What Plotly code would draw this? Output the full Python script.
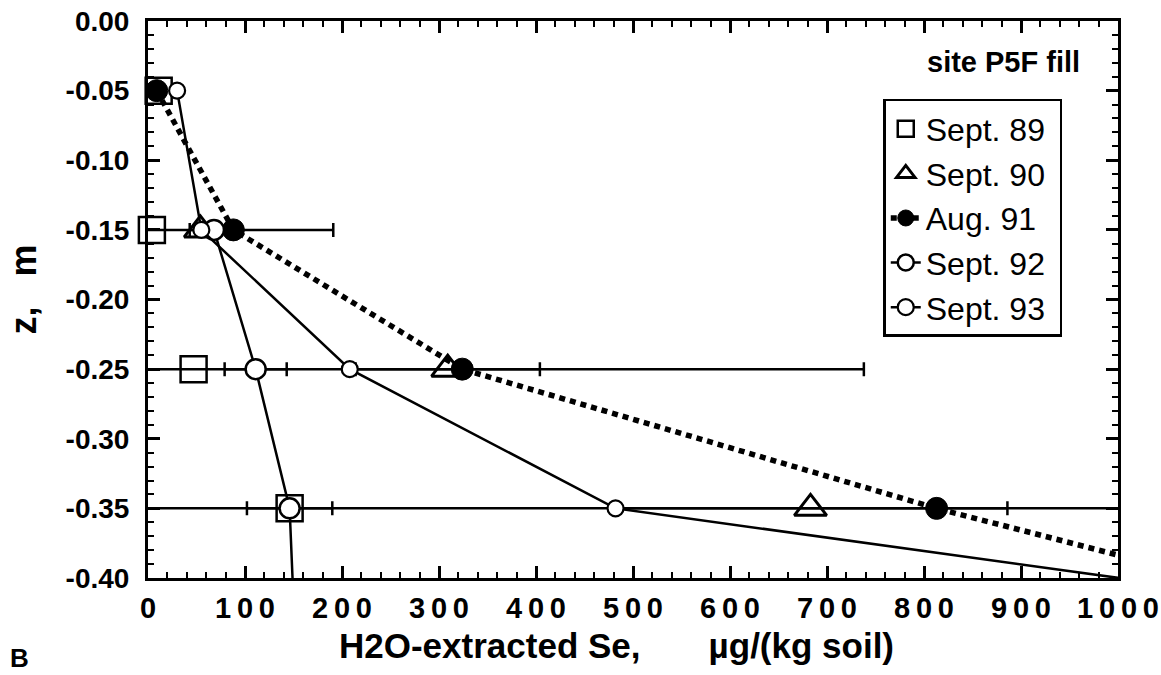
import plotly.graph_objects as go

# Depth of each sampling layer (m); the last level lies below the plotted range
depth = [-0.05, -0.15, -0.25, -0.35, -0.45]

# H2O-extracted Se, ug/(kg soil)
se_sep89 = [11, 4, 47, 146, None]
se_sep90 = [None, 54, 309, 683, None]
err_sep90 = [None, 11, 95, 203, None]
se_aug91 = [9, 88, 324, 813, 1370]
err_aug91 = [None, 103, 414, 900, None]
se_sep92 = [None, 68, 111, 146, 152]
err_sep92 = [None, None, 32, 44, None]
se_sep93 = [30, 55, 208, 482, 1520]

x_ticks = [0, 100, 200, 300, 400, 500, 600, 700, 800, 900, 1000]
x_ticktext = ["0", "100", "200", "300", "400", "500", "600", "700", "800", "900", "1000"]
y_ticks = [0.0, -0.05, -0.10, -0.15, -0.20, -0.25, -0.30, -0.35, -0.40]
y_ticktext = ["0.00", "-0.05", "-0.10", "-0.15", "-0.20", "-0.25", "-0.30", "-0.35", "-0.40"]

BLACK = "black"
SANS = "Liberation Sans"
SP = "\u00a0"
THIN = "\u2009"


def errs(vals):
    return dict(type="data", array=vals, visible=True, color=BLACK,
                thickness=2.5, width=7)


def spaced(label):
    # bold digits set a little apart
    return "<b>" + THIN.join(label) + "</b>"


fig = go.Figure()

fig.add_trace(go.Scatter(
    x=se_sep89, y=depth, mode="markers", name="Sept. 89" + SP, legendgroup="a",
    cliponaxis=False,
    marker=dict(symbol="square", size=26, color="rgba(0,0,0,0)",
                line=dict(color=BLACK, width=2.5)),
))
fig.add_trace(go.Scatter(
    x=se_sep90, y=depth, mode="markers", name="Sept. 90", legendgroup="b",
    cliponaxis=False, error_x=errs(err_sep90),
    marker=dict(symbol="triangle-up", size=28, color="rgba(0,0,0,0)",
                line=dict(color=BLACK, width=3)),
))
fig.add_trace(go.Scatter(
    x=se_aug91, y=depth, mode="lines+markers", name="Aug. 91", legendgroup="c",
    error_x=errs(err_aug91),
    line=dict(color=BLACK, width=5.5, dash="6px,5px"),
    marker=dict(symbol="circle", size=22, color=BLACK,
                line=dict(color=BLACK, width=1)),
))
fig.add_trace(go.Scatter(
    x=se_sep92, y=depth, mode="lines+markers", name="Sept. 92", legendgroup="d",
    error_x=errs(err_sep92),
    line=dict(color=BLACK, width=2.5),
    marker=dict(symbol="circle", size=20, color="white",
                line=dict(color=BLACK, width=2.5)),
))
fig.add_trace(go.Scatter(
    x=se_sep93, y=depth, mode="lines+markers", name="Sept. 93", legendgroup="e",
    line=dict(color=BLACK, width=2.5),
    marker=dict(symbol="circle", size=16, color="white",
                line=dict(color=BLACK, width=2.2)),
))

axis_common = dict(
    showline=True, linewidth=3, linecolor=BLACK, mirror="allticks",
    ticks="inside", ticklen=12, tickwidth=2.5, tickcolor=BLACK,
    showgrid=False, zeroline=False, automargin=False,
)

fig.update_xaxes(
    range=[0, 1000], tickmode="array", tickvals=x_ticks,
    ticktext=[spaced(t) for t in x_ticktext],
    tickfont=dict(family=SANS, size=29, color=BLACK), ticklabelstandoff=2,
    minor=dict(ticks="inside", tickmode="linear", tick0=0, dtick=20,
               ticklen=6, tickwidth=2, tickcolor=BLACK),
    **axis_common,
)
fig.update_yaxes(
    range=[-0.40, 0.0], tickmode="array", tickvals=y_ticks,
    ticktext=["<b>" + t + "</b>" for t in y_ticktext],
    tickfont=dict(family=SANS, size=28, color=BLACK), ticklabelstandoff=10,
    minor=dict(ticks="inside", tickmode="linear", tick0=0, dtick=0.01,
               ticklen=6, tickwidth=2, tickcolor=BLACK),
    title=dict(text="<b>" + SP * 2 + "z," + SP * 3 + "m</b>",
               font=dict(family=SANS, size=36, color=BLACK), standoff=18),
    **axis_common,
)

fig.update_layout(
    width=1161, height=675,
    margin=dict(l=148, r=43, t=21, b=97),
    plot_bgcolor="white", paper_bgcolor="white",
    font=dict(family=SANS, color=BLACK),
    legend=dict(
        x=0.758, y=0.86, xanchor="left", yanchor="top",
        bordercolor=BLACK, borderwidth=2.5, bgcolor="white",
        font=dict(family=SANS, size=32, color=BLACK),
        tracegroupgap=0, itemwidth=30,
    ),
    annotations=[
        # x-axis title
        dict(text="<b>H2O-extracted Se," + SP * 7 + "\u00b5g/(kg soil)</b>",
             xref="paper", yref="paper", x=0.4835, y=-0.122,
             xanchor="center", yanchor="middle", showarrow=False,
             font=dict(family=SANS, size=35, color=BLACK)),
        dict(text="<b>site P5F fill</b>", xref="paper", yref="paper",
             x=0.963, y=0.927, xanchor="right", yanchor="middle",
             showarrow=False, font=dict(family=SANS, size=29, color=BLACK)),
        dict(text="<b>B</b>", xref="paper", yref="paper",
             x=-0.132, y=-0.175, xanchor="center", yanchor="bottom",
             showarrow=False, font=dict(family=SANS, size=26, color=BLACK)),
    ],
)

fig.write_html("out.html")
